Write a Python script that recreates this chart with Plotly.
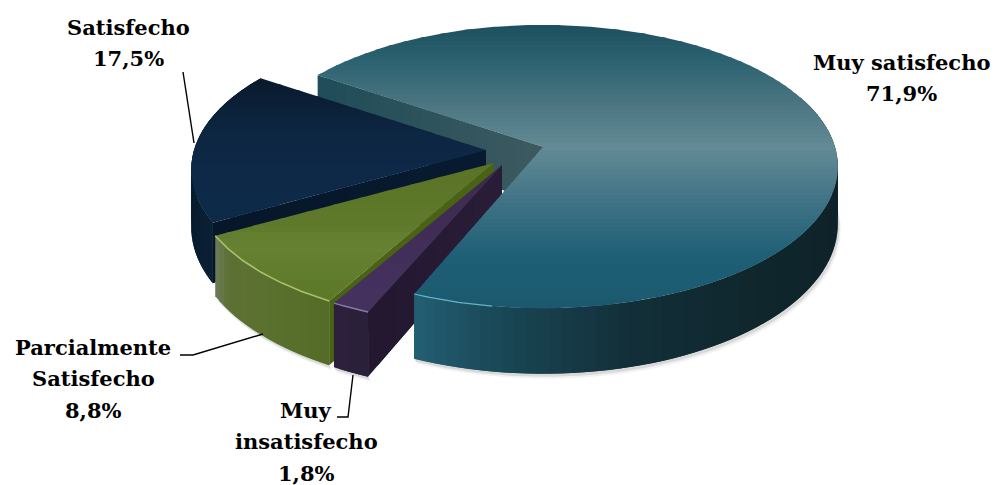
import numpy as np
import plotly.graph_objects as go

categories = ["Muy satisfecho", "Muy insatisfecho", "Parcialmente Satisfecho", "Satisfecho"]
values = [71.9, 1.8, 8.8, 17.5]
label_lines = [["Muy satisfecho", "71,9%"], ["Muy", "insatisfecho", "1,8%"],
               ["Parcialmente", "Satisfecho", "8,8%"], ["Satisfecho", "17,5%"]]
start_angle = -146.2

A, B, K, DEPTH = 292.0, 139.0, 0.138, 56.5
apex = {"Muy satisfecho": (543, 147, 1.0), "Muy insatisfecho": (502, 165, 1.04),
        "Parcialmente Satisfecho": (494, 163, 1.02), "Satisfecho": (486, 150, 1.0)}

spans = np.array(values) / sum(values) * 360
edges = start_angle + np.concatenate([[0], np.cumsum(spans)])
angles = {c: (edges[i], edges[i + 1]) for i, c in enumerate(categories)}

fig = go.Figure()


def proj(theta, cat):
    ox, oy, sx = apex[cat]
    t = np.radians(theta)
    X, Z = np.cos(t), np.sin(t)
    s = 1 / (1 - K * Z)
    return ox + A * X * s * sx, oy + B * Z * s, s


def hex2rgb(h):
    return np.array([int(h[i:i + 2], 16) for i in (1, 3, 5)], float)


def lerp(stops, p):
    ps = [s[0] for s in stops]
    cs = np.array([hex2rgb(s[1]) for s in stops])
    return "rgb(%d,%d,%d)" % tuple(np.interp(p, ps, cs[:, i]) for i in range(3))


def poly(x, y, color):
    fig.add_trace(go.Scatter(x=list(x), y=list(y), mode="lines", fill="toself", fillcolor=color,
                             line=dict(width=0), hoverinfo="skip", showlegend=False))


def line(x, y, color, width=1.4):
    fig.add_trace(go.Scatter(x=list(x), y=list(y), mode="lines", line=dict(color=color, width=width),
                             hoverinfo="skip", showlegend=False))


def clip_half(pts, c, keep_below):
    out = []
    inside = (lambda q: q[1] >= c) if keep_below else (lambda q: q[1] <= c)
    for i in range(len(pts)):
        a, b = pts[i], pts[(i + 1) % len(pts)]
        ia, ib = inside(a), inside(b)
        if ia:
            out.append(a)
        if ia != ib:
            f = (c - a[1]) / (b[1] - a[1])
            out.append((a[0] + f * (b[0] - a[0]), c))
    return out


def top_outline(cat):
    a0, a1 = angles[cat]
    th = np.linspace(a0, a1, max(int(a1 - a0) * 2, 12))
    x, y, _ = proj(th, cat)
    ox, oy, _ = apex[cat]
    return list(zip(np.r_[ox, x], np.r_[oy, y]))


def top(cat, stops, n):
    pts = top_outline(cat)
    ys = [q[1] for q in pts]
    cuts = np.linspace(min(ys), max(ys), n + 1)
    for i in range(n):
        q = clip_half(clip_half(pts, cuts[i], True), cuts[i + 1] + 1.2, False)
        if len(q) > 2:
            poly([v[0] for v in q], [v[1] for v in q], lerp(stops, (cuts[i] + cuts[i + 1]) / 2))


def wall(cat, a0, a1, stops, step=2.0):
    sgn = 1 if a1 > a0 else -1
    count = int(np.ceil(abs(a1 - a0) / step))
    th = np.linspace(a0, a1, count + 1)
    for i in range(count):
        q = th[i:i + 3]
        x, y, s = proj(q, cat)
        poly(np.r_[x, x[::-1]], np.r_[y, (y + DEPTH * s)[::-1]], lerp(stops, th[i] + sgn * step / 2))


def cut(cat, theta, c0, c1, n=14):
    ox, oy, _ = apex[cat]
    x, y, s = proj(theta, cat)
    f = np.linspace(0, 1, n + 1)
    for i in range(n):
        f0, f1 = f[i], min(f[i + 1] + 1.0 / n, 1)
        xa, xb = x + (ox - x) * f0, x + (ox - x) * f1
        ya, yb = y + (oy - y) * f0, y + (oy - y) * f1
        da, db = DEPTH * (s + (1 - s) * f0), DEPTH * (s + (1 - s) * f1)
        poly([xa, xb, xb, xa], [ya, yb, yb + db, ya + da],
             lerp([(0, c0), (1, c1)], (f[i] + f[i + 1]) / 2))


def shadow(cat, a0, a1):
    th = np.linspace(a0, a1, 80)
    x, y, s = proj(th, cat)
    for off, col in ((5, "rgba(0,0,0,0.05)"), (3, "rgba(0,0,0,0.10)")):
        poly(np.r_[x + off * 0.6, x[::-1]], np.r_[y + DEPTH * s + off, y[::-1] + DEPTH * s[::-1]], col)


m, p, g, n = categories
ma0, ma1 = angles[m]
pa0, pa1 = angles[p]
ga0, ga1 = angles[g]
na0, na1 = angles[n]

# main slice's visible cut face, behind the exploded slices
cut(m, ma0, "#1f4d59", "#3e5a60", 24)

# navy
shadow(n, 160, 185)
wall(n, na1, na0, [(150, "#0b2136"), (170, "#081a2c"), (214, "#07162a")])
cut(n, na0, "#07172a", "#081b30")
top(n, [(78, "#0a1a2c"), (125, "#0d2540"), (165, "#0e2948"), (225, "#0e2b4a")], 24)

# green
shadow(g, ga0, ga1)
wall(g, ga1, ga0, [(119, "#556c28"), (135, "#5c7230"), (145, "#5d7035"), (151, "#6f7d5c")])
cut(g, ga0, "#4a6214", "#4a6214", 4)
top(g, [(163, "#5a7326"), (225, "#607a2c"), (245, "#678233"), (300, "#5c7829")], 20)
gx, gy, _ = proj(np.linspace(ga0, ga1, 50), g)
line(gx, gy, "#a9c06c", 1.6)

# purple
shadow(p, pa0, pa1)
wall(p, pa1, pa0, [(112, "#2a2038"), (120, "#2e2140")], 1.0)
cut(p, pa0, "#231830", "#2a1d38")
top(p, [(165, "#3c2a4f"), (300, "#45325f")], 6)
px, py, _ = proj(np.linspace(pa0, pa1, 12), p)
line(px, py, "#8a78a4", 1.4)

# main
shadow(m, -5, ma1)
wall(m, -22, ma1, [(-22, "#244a52"), (-8, "#1b3a42"), (5, "#0e2229"), (20, "#0f2329"), (50, "#10272e"),
                   (75, "#132f39"), (95, "#194553"), (113, "#245f74")])
top(m, [(25, "#1e5160"), (60, "#2c6271"), (100, "#487480"), (147, "#648b96"), (200, "#417486"),
        (255, "#1f6076"), (310, "#1c596f")], 70)
mx, my, _ = proj(np.linspace(ma1 - 14, ma1, 20), m)
line(mx, my, "#62b4c6", 1.2)

# leader lines
leader_x = [[183, 194], [180, 193, 263], [337, 348, 353]]
leader_y = [[72, 143], [355, 355, 334], [417, 417, 375]]
for lx, ly in zip(leader_x, leader_y):
    line(lx, ly, "#000000", 1.4)

# labels
label_x = {m: 901, p: 306, g: 93, n: 128}
label_y = {m: 62, p: 410, g: 347, n: 27}
for c, lines in zip(categories, label_lines):
    for i, t in enumerate(lines):
        fig.add_annotation(x=label_x[c], y=label_y[c] + 31.7 * i, text="<b>" + t + "</b>", showarrow=False,
                           align="center", xanchor="center", yanchor="middle",
                           font=dict(family="DejaVu Serif", size=21, color="#000000"))

fig.update_xaxes(range=[0, 998], visible=False, fixedrange=True)
fig.update_yaxes(range=[485, 0], visible=False, fixedrange=True)
fig.update_layout(width=998, height=485, margin=dict(l=0, r=0, t=0, b=0), showlegend=False,
                  paper_bgcolor="white", plot_bgcolor="white")
fig.write_html("out.html", config={"displayModeBar": False},
               post_script="document.body.style.margin='0';document.body.style.overflow='hidden';")
